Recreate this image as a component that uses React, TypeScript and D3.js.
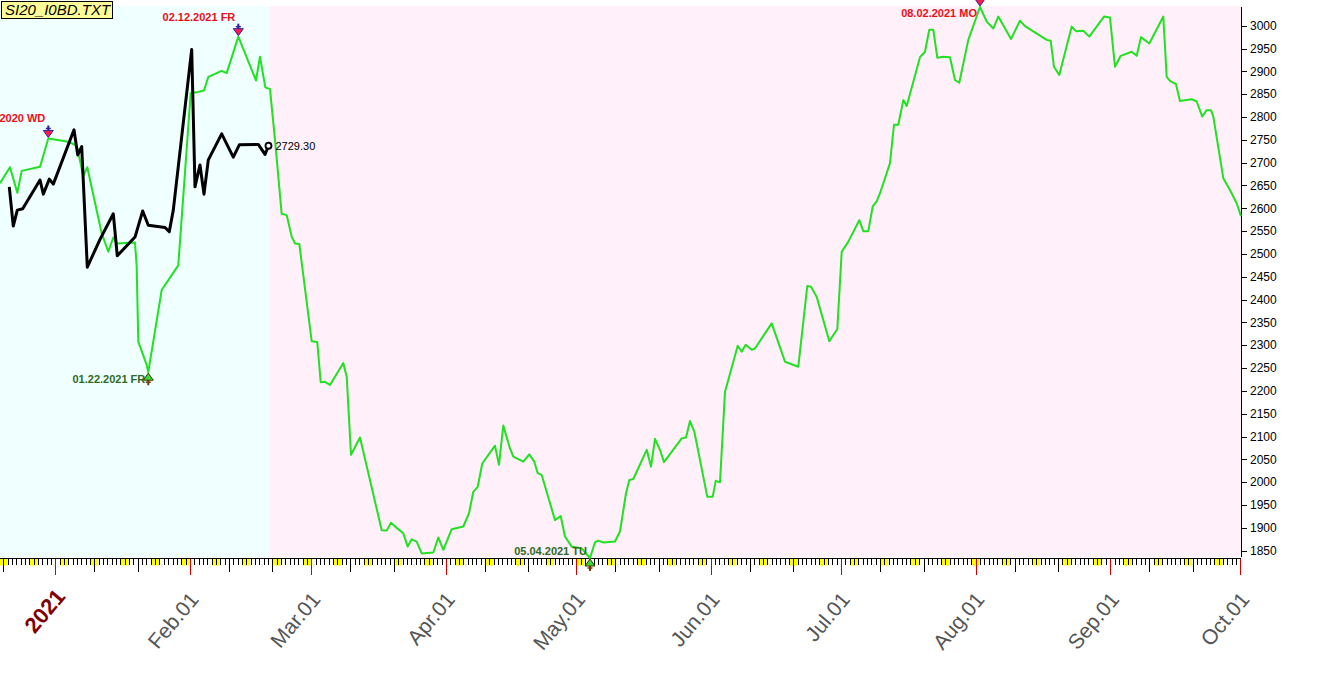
import React from 'react';
import * as d3 from 'd3';

// ---------- data (day offsets from 2021-01-01, values) ----------
const greenDays = [-12.74,-10.44,-8.75,-7.74,-3.52,-1.61,2.99,4.93,6.45,7.37,
  10.69,12.21,13.36,14.28,18.36,18.75,19.12,21.05,21.42,24.51,
  28.33,29.12,31.19,32.94,34.25,35.25,38.33,39.48,42.16,46.23,
  47.15,48.38,49.46,50.61,52.15,53.31,54.46,55.22,56.21,59.06,
  60.35,61.14,62.13,63.28,66.34,67.13,68.12,70.19,75.19,76.34,
  77.33,78.65,80.17,81.18,82.10,83.25,84.40,87.08,88.23,89.38,
  91.32,93.99,95.30,96.29,97.31,98.36,101.29,102.21,103.20,104.74,
  105.51,107.81,109.19,110.34,111.13,112.05,115.11,116.42,117.41,118.96,
  121.26,123.17,124.32,125.08,126.24,128.93,130.08,131.47,132.23,133.15,
  136.24,137.23,138.15,139.30,140.22,144.30,145.29,146.21,147.20,150.20,
  151.44,152.13,153.12,154.27,155.03,157.20,158.12,159.04,160.42,161.18,
  165.03,168.09,171.16,173.23,174.09,175.40,178.30,180.14,181.16,182.68,
  185.21,186.13,187.28,188.30,189.22,189.98,192.28,193.20,194.19,195.35,
  196.13,199.19,200.34,201.33,202.26,203.18,204.56,206.10,207.26,208.24,
  210.32,213.01,214.56,216.08,217.23,220.16,222.23,223.38,228.38,229.30,
  230.06,231.28,234.14,235.13,236.81,238.19,241.58,242.96,244.11,245.43,
  247.96,249.11,250.10,252.02,255.24,256.02,256.78,258.16,259.08,261.78,
  262.93,264.22,265.24,266.23,266.76,269.06,270.60,272.15,273.13];

const greenValues = [2655,2690,2634,2682,2691,2753,2746,2737,2671,2690,
  2545,2505,2536,2523,2525,2472,2308,2257,2241,2421,
  2475,2579,2852,2855,2858,2888,2901,2896,2976,2880,
  2932,2865,2861,2750,2588,2585,2538,2523,2522,2309,
  2307,2219,2220,2213,2261,2231,2060,2098,1895,1894,
  1911,1900,1888,1859,1875,1870,1844,1846,1879,1852,
  1897,1903,1932,1979,1990,2041,2080,2038,2124,2074,
  2056,2045,2061,2045,2020,2016,1917,1926,1881,1859,
  1855,1834,1868,1872,1868,1870,1892,1976,2005,2007,
  2071,2034,2095,2071,2044,2096,2098,2134,2111,1968,
  1968,2003,2000,2198,2224,2299,2286,2301,2290,2293,
  2348,2264,2253,2430,2428,2406,2309,2335,2505,2527,
  2574,2550,2550,2604,2615,2633,2699,2783,2783,2837,
  2824,2931,2943,2991,2991,2930,2932,2931,2881,2875,
  2969,3041,3009,2994,3020,2971,3011,2999,2969,2967,
  2910,2892,2998,2988,2989,2976,3020,3018,2910,2934,
  2943,2934,2975,2961,3020,2888,2879,2872,2835,2839,
  2834,2801,2815,2815,2801,2666,2640,2611,2583];

const blackDays = [-10.60,-9.68,-8.75,-7.51,-3.52,-2.76,-1.38,-0.46,4.31,5.16,
  6.08,7.37,10.30,13.36,14.28,18.36,20.13,21.42,25.27,26.26,
  27.18,31.42,32.18,33.33,34.25,35.25,38.33,41.00,42.39,46.76,48.31,49.11];
const blackValues = [2647,2561,2596,2599,2662,2631,2664,2653,2772,2717,
  2735,2471,2532,2588,2496,2537,2594,2563,2558,2549,
  2596,2948,2647,2695,2631,2706,2763,2712,2739,2740,2718,2737];
const blackEndLabel = '2729.30';

const annDays = [-1.61, 21.42, 42.16, 123.17, 213.01];
const annValues = [2753, 2241, 2976, 1834, 3041];
const annLabels = ['12.30.2020 WD', '01.22.2021 FR', '02.12.2021 FR', '05.04.2021 TU', '08.02.2021 MO'];
const annKinds = ['high', 'low', 'high', 'low', 'high'];

const yTickValues = [1850,1900,1950,2000,2050,2100,2150,2200,2250,2300,2350,2400,2450,2500,
  2550,2600,2650,2700,2750,2800,2850,2900,2950,3000];
const monthTickDates = ['2021-01-01','2021-02-01','2021-03-01','2021-04-01','2021-05-01',
  '2021-06-01','2021-07-01','2021-08-01','2021-09-01','2021-10-01'];
const monthLabels = ['2021','Feb.01','Mar.01','Apr.01','May.01','Jun.01','Jul.01','Aug.01','Sep.01','Oct.01'];

const currentDay = 49.3; // boundary between history (cyan) and projection (pink)
const fileLabel = 'SI20_I0BD.TXT';

const FONT = "'Liberation Sans', Arial, sans-serif";

export default function App() {
  const W = 1319, H = 689;
  const plotRight = 1241, plotTop = 6, axisY = 558;
  const base = Date.UTC(2021, 0, 1);
  const toDate = (d: number) => new Date(base + d * 864e5);
  const pxDay = 4.341, x0 = 55.3;

  const x = d3.scaleUtc()
    .domain([toDate(-13), toDate(273)])
    .range([x0 - 13 * pxDay, x0 + 273 * pxDay]);
  const y = d3.scaleLinear().domain([1850, 3000]).range([550.7, 25.7]);

  const line = d3.line<[number, number]>()
    .x(d => x(toDate(d[0])))
    .y(d => y(d[1]));

  const green: [number, number][] = greenDays.map((d, i) => [d, greenValues[i]]);
  const black: [number, number][] = blackDays.map((d, i) => [d, blackValues[i]]);

  const days = d3.utcDay.range(toDate(-13), toDate(274));
  const splitX = x(toDate(currentDay));

  const lastB = black[black.length - 1];
  const lbx = x(toDate(lastB[0]));
  const lby = y(lastB[1]);

  return (
    <svg width={W} height={H} style={{ position: 'absolute', left: 0, top: 0, display: 'block', background: '#fff' }}
      fontFamily={FONT}>
      {/* backgrounds */}
      <rect x={0} y={plotTop} width={splitX} height={axisY - plotTop - 1} fill="#f0ffff" />
      <rect x={splitX} y={plotTop} width={plotRight - splitX} height={axisY - plotTop - 1} fill="#fff0fa" />

      {/* weekend markers */}
      {days.filter(d => d.getUTCDay() === 6).map((d, i) => (
        <rect key={'we' + i} x={x(d) + 0.5} y={559} width={x(d3.utcDay.offset(d, 2)) - x(d) - 1} height={6.5} fill="#ffff00" />
      ))}
      {/* day ticks */}
      {days.map((d, i) => {
        const dt = d.getUTCDate();
        const xx = Math.round(x(d)) + 0.5;
        if (dt === 1) return <line key={'t' + i} x1={xx} x2={xx} y1={axisY} y2={575} stroke="#cc0000" strokeWidth={1} />;
        const len = dt === 10 || dt === 20 ? 572 : 565;
        return <line key={'t' + i} x1={xx} x2={xx} y1={axisY} y2={len} stroke="#000" strokeWidth={1} />;
      })}
      <line x1={0} x2={plotRight} y1={axisY + 0.5} y2={axisY + 0.5} stroke="#000" strokeWidth={1} />

      {/* month labels */}
      {monthTickDates.map((s, i) => {
        const xx = x(new Date(s + 'T00:00:00Z'));
        const first = i === 0;
        return (
          <text key={'ml' + i} transform={`translate(${xx + (first ? 11 : 10)},${first ? 597 : 600}) rotate(-50)`}
            textAnchor="end" fontSize={first ? 22 : 21} fontWeight={first ? 'bold' : 'normal'}
            fill={first ? '#800000' : '#555555'}>{monthLabels[i]}</text>
        );
      })}

      {/* right axis */}
      <line x1={plotRight + 0.5} x2={plotRight + 0.5} y1={plotTop + 1} y2={axisY - 1} stroke="#000" strokeWidth={1} />
      {yTickValues.map(v => (
        <g key={'y' + v}>
          <line x1={plotRight} x2={plotRight + 6} y1={Math.round(y(v)) + 0.5} y2={Math.round(y(v)) + 0.5} stroke="#000" />
          <text x={plotRight + 9} y={y(v)} dy="0.35em" fontSize={12} fill="#000">{v}</text>
        </g>
      ))}

      {/* lines */}
      <path d={line(green) || ''} fill="none" stroke="#22e022" strokeWidth={2} strokeLinejoin="round" />
      <path d={line(black) || ''} fill="none" stroke="#000" strokeWidth={3} strokeLinejoin="round" />
      <circle cx={lbx} cy={lby} r={3} fill="#fff" stroke="#000" strokeWidth={1.8} />
      <text x={lbx + 7} y={lby + 4} fontSize={11} fill="#000">{blackEndLabel}</text>

      {/* annotations */}
      {annDays.map((d, i) => {
        const cx = x(toDate(d));
        const vy = y(annValues[i]);
        if (annKinds[i] === 'high') {
          const tip = vy - 1;
          const ty = Math.max(tip - 15, 17);
          return (
            <g key={'a' + i}>
              <line x1={cx} x2={cx} y1={tip - 12} y2={tip - 6} stroke="#3020a0" strokeWidth={2} />
              <line x1={cx - 2.5} x2={cx + 2.5} y1={tip - 9} y2={tip - 9} stroke="#3020a0" strokeWidth={1.5} />
              <path d={`M${cx - 5},${tip - 7}L${cx + 5},${tip - 7}L${cx},${tip}Z`} fill="#ff1a4a" stroke="#3020a0" strokeWidth={1} />
              <text x={cx - 3} y={ty} textAnchor="end" fontSize={11} fontWeight="bold" fill="#e8101a">{annLabels[i]}</text>
            </g>
          );
        }
        const tip = vy + 1;
        const ty = Math.min(tip + 10, 555);
        return (
          <g key={'a' + i}>
            <line x1={cx} x2={cx} y1={tip + 6} y2={tip + 12} stroke="#7a3a00" strokeWidth={2} />
            <line x1={cx - 2.5} x2={cx + 2.5} y1={tip + 9} y2={tip + 9} stroke="#7a3a00" strokeWidth={1.5} />
            <path d={`M${cx - 5},${tip + 7}L${cx + 5},${tip + 7}L${cx},${tip}Z`} fill="#33dd33" stroke="#4a3000" strokeWidth={1} />
            <text x={cx - 3} y={ty} textAnchor="end" fontSize={11} fontWeight="bold" fill="#2f6a22">{annLabels[i]}</text>
          </g>
        );
      })}

      {/* file label */}
      <rect x={1.5} y={1.5} width={111} height={17} fill="#ffff99" stroke="#000" strokeWidth={1} />
      <text x={5} y={15} fontSize={15} fontStyle="italic" fill="#000">{fileLabel}</text>
    </svg>
  );
}
